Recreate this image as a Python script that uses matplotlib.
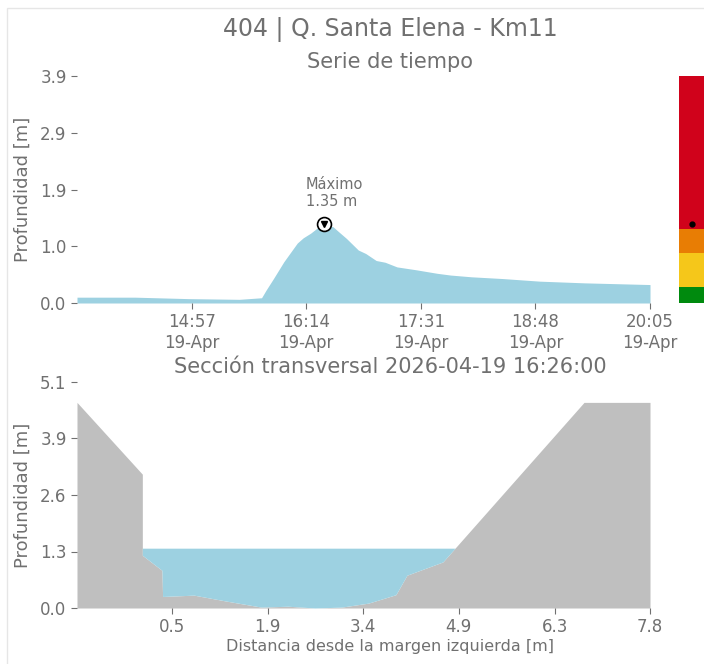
import numpy as np
import pandas as pd
import matplotlib
matplotlib.use('Agg')
import matplotlib.pyplot as plt
import matplotlib.dates as mdates
from matplotlib.patches import Rectangle

# serie de tiempo
fecha = '2026-04-19'
horas = ['13:40', '14:19', '14:55', '15:29', '15:44', '15:47', '15:52', '15:59',
         '16:08', '16:12', '16:17', '16:21', '16:26', '16:32', '16:36', '16:41',
         '16:49', '16:54', '17:01', '17:07', '17:15', '17:28', '17:42', '17:51',
         '18:05', '18:26', '18:51', '19:21', '20:05']
profundidad = [0.10, 0.10, 0.075, 0.063, 0.09, 0.22, 0.42, 0.71,
               1.03, 1.12, 1.20, 1.28, 1.35, 1.31, 1.22, 1.11,
               0.91, 0.85, 0.73, 0.70, 0.62, 0.57, 0.51, 0.48,
               0.45, 0.42, 0.375, 0.346, 0.317]
horas_ticks = ['14:57', '16:14', '17:31', '18:48', '20:05']
y_ticks_serie = [0.0, 0.975, 1.95, 2.925, 3.9]
y_labels_serie = ['0.0', '1.0', '1.9', '2.9', '3.9']

# niveles de alerta
umbrales = [0.0, 0.27, 0.86, 1.27, 3.9]
colores_alerta = ['#008a0e', '#f5c71a', '#e87d04', '#d0021b']

# seccion transversal
distancia = [-0.97, 0.03, 0.03, 0.33, 0.34, 0.82, 1.30, 1.85, 2.26, 2.67, 3.08,
             3.49, 3.91, 4.08, 4.63, 6.79, 7.8]
cota = [4.64, 3.02, 1.19, 0.85, 0.26, 0.29, 0.16, 0.02, 0.04, 0.0, 0.02,
        0.11, 0.30, 0.74, 1.04, 4.64, 4.64]
nivel = 1.35
x_ticks_sec = [0.49, 1.95, 3.41, 4.87, 6.34, 7.8]
x_labels_sec = ['0.5', '1.9', '3.4', '4.9', '6.3', '7.8']
y_ticks_sec = [0.0, 1.275, 2.55, 3.825, 5.1]
y_labels_sec = ['0.0', '1.3', '2.6', '3.9', '5.1']

gris = '#707070'
azul = '#9dd1e1'

t = pd.to_datetime([fecha + ' ' + h for h in horas])
t_ticks = pd.to_datetime([fecha + ' ' + h for h in horas_ticks])

W, H = 704, 664
fig = plt.figure(figsize=(W / 100, H / 100), dpi=100)

def caja(x0, y0, x1, y1):
    return [x0 / W, 1 - y1 / H, (x1 - x0) / W, (y1 - y0) / H]

fig.patches.append(Rectangle((7 / W, -0.1), 1.2, 1.1 - 8 / H, transform=fig.transFigure,
                             fill=False, edgecolor='#e6e6e6', lw=1))

ax1 = fig.add_axes(caja(77, 76, 650, 303))
ax2 = fig.add_axes(caja(77, 382, 650, 608))
axb = fig.add_axes(caja(679, 76, 704, 303))

# serie de tiempo
ax1.fill_between(t, 0, profundidad, color=azul, lw=0)
i_max = int(np.argmax(profundidad))
ax1.plot(t[i_max], profundidad[i_max], 'o', ms=10, mfc='white', mec='black', mew=1.2)
ax1.plot(t[i_max], profundidad[i_max], 'v', ms=5, color='black')
ax1.annotate('Máximo\n%.2f m' % profundidad[i_max], (t[i_max], profundidad[i_max]),
             xytext=(-18, 15), textcoords='offset pixels', ha='left', va='bottom',
             fontsize=10.5, color=gris)
ax1.set_xlim(t[0], t[-1])
ax1.set_ylim(0, 3.9)
ax1.set_xticks(t_ticks)
ax1.xaxis.set_major_formatter(mdates.DateFormatter('%H:%M\n%d-%b'))
ax1.set_yticks(y_ticks_serie)
ax1.set_yticklabels(y_labels_serie)
ax1.set_ylabel('Profundidad [m]', fontsize=13, color=gris)

# barra de alerta
for k in range(len(colores_alerta)):
    axb.bar(0, umbrales[k + 1] - umbrales[k], bottom=umbrales[k], width=1,
            color=colores_alerta[k])
axb.plot(0, profundidad[i_max], 'o', color='black', ms=3.5)
axb.set_xlim(-0.5, 0.5)
axb.set_ylim(0, 3.9)
axb.axis('off')

# seccion transversal
ax2.fill_between(distancia, 0, cota, color='#bfbfbf', lw=0)
cota_a = np.array(cota)
ax2.fill_between(distancia, cota, nivel, where=cota_a < nivel, interpolate=True,
                 color=azul, lw=0)
ax2.set_xlim(distancia[0], distancia[-1])
ax2.set_ylim(0, 5.1)
ax2.set_xticks(x_ticks_sec)
ax2.set_xticklabels(x_labels_sec)
ax2.set_yticks(y_ticks_sec)
ax2.set_yticklabels(y_labels_sec)
ax2.set_ylabel('Profundidad [m]', fontsize=13, color=gris)

for ax in (ax1, ax2):
    for s in ax.spines.values():
        s.set_visible(False)
    ax.tick_params(labelsize=12, labelcolor=gris, color=gris, length=4, width=0.8)
    ax.yaxis.set_label_coords(-0.094, 0.5)
    ax.yaxis.label.set_va('center')

fig.text(390 / W, 1 - 30 / H, '404 | Q. Santa Elena - Km11', ha='center', va='center',
         fontsize=17, color=gris)
fig.text(390 / W, 1 - 62 / H, 'Serie de tiempo', ha='center', va='center',
         fontsize=15, color=gris)
fig.text(390 / W, 1 - 367 / H, 'Sección transversal %s 16:26:00' % fecha, ha='center',
         va='center', fontsize=15, color=gris)
fig.text(390 / W, 1 - 646 / H, 'Distancia desde la margen izquierda [m]', ha='center',
         va='center', fontsize=11.5, color=gris)

fig.savefig('out.png', dpi=100)
